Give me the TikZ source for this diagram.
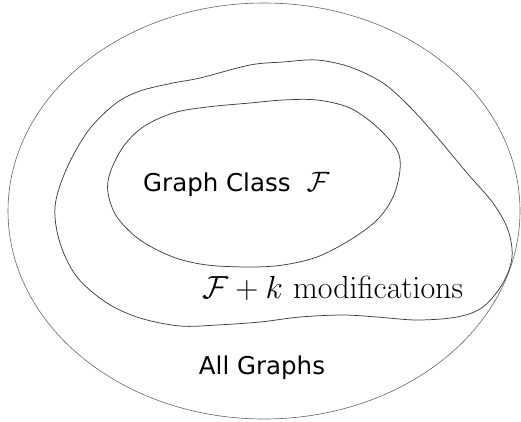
\documentclass[tikz,border=0pt]{standalone}
\usepackage{fix-cm}
\usepackage[no-math]{fontspec}
\setmainfont{DejaVu Sans}
\begin{document}
\begin{tikzpicture}[x=1pt,y=-1pt,
  curve/.style={draw=black!75,line width=0.75pt},
  outer/.style={draw=black!60,line width=0.6pt},
  sanslabel/.style={font=\fontsize{24.5}{28}\selectfont,inner sep=0pt},
  mathlabel/.style={font=\fontsize{32}{36}\selectfont,inner sep=0pt}]
\useasboundingbox (0,0) rectangle (521,421);
% outer ellipse: all graphs
\draw[outer] (264,211) ellipse [x radius=256, y radius=208];
% middle blob: F + k modifications
\draw[curve] plot[smooth cycle, tension=0.55] coordinates {
  (55,207) (66,170) (88,131) (115,104) (140,91) (173,83) (200,78) (250,65)
  (283,62) (317,60) (350,67) (383,83) (410,107) (437,137) (467,173)
  (493,203) (508,230) (512,257) (503,283) (483,307) (457,317) (417,320)
  (377,317) (343,315) (300,317) (260,322) (217,325) (180,326) (140,318)
  (107,303) (77,277) (60,243)};
% inner blob: graph class F
\draw[curve] plot[smooth cycle, tension=0.55] coordinates {
  (108,193) (110,173) (123,147) (143,127) (173,113) (207,107) (250,103)
  (283,100) (317,100) (350,108) (377,127) (397,150) (400,170) (393,197)
  (377,220) (350,240) (317,257) (283,265) (250,267) (207,265) (173,257)
  (140,240) (117,217)};
\node[sanslabel,anchor=base west] (cls) at (143,191) {Graph Class\hspace{16pt}\fontsize{28}{30}\selectfont$\mathcal{F}$};
\node[mathlabel,anchor=base west] (mod) at (202,298) {$\mathcal{F}+k\ \mathrm{modifications}$};
\node[sanslabel] (all) at (262,368) {All Graphs};
\end{tikzpicture}
\end{document}
